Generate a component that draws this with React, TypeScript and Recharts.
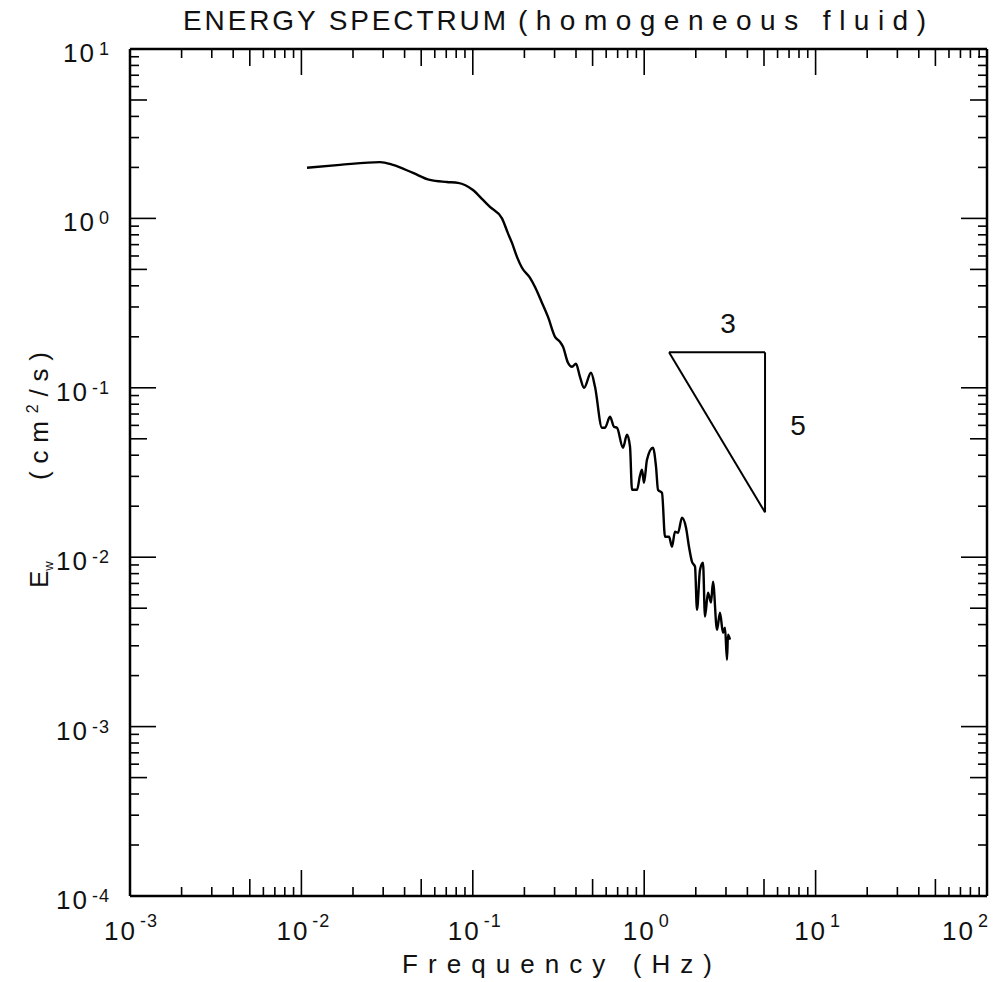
import React from 'react';
import { LineChart, Line, XAxis, YAxis, ReferenceLine, ReferenceDot } from 'recharts';

// Spectrum curve (frequency in Hz, energy in cm^2/s)
const FREQ = [
  0.01078, 0.0168, 0.0288, 0.0342, 0.0448, 0.0562, 0.0706, 0.082, 0.1002, 0.1147,
  0.1259, 0.148, 0.160, 0.1693, 0.181, 0.1936, 0.2157, 0.2307, 0.2535, 0.2747,
  0.3018, 0.3228, 0.336, 0.3592, 0.3792, 0.3999, 0.422, 0.4455, 0.4894, 0.5164,
  0.5672, 0.5905, 0.6316, 0.6665, 0.694, 0.752, 0.7937, 0.8264, 0.8488, 0.908,
  0.945, 0.971, 0.997, 1.038, 1.125, 1.172, 1.204, 1.27, 1.323, 1.396,
  1.453, 1.512, 1.575, 1.662, 1.754, 1.825, 1.9, 1.979, 2.032, 2.117,
  2.203, 2.263, 2.356, 2.453, 2.52, 2.659, 2.768, 2.883, 2.961, 3.041,
  3.083, 3.167,
];
const ENERGY = [
  1.99, 2.07, 2.15, 2.07, 1.855, 1.687, 1.64, 1.62, 1.47, 1.285,
  1.17, 1.0, 0.821, 0.717, 0.593, 0.511, 0.446, 0.394, 0.317, 0.262,
  0.2, 0.1868, 0.1746, 0.1405, 0.133, 0.1386, 0.116, 0.1, 0.1226, 0.1014,
  0.0581, 0.0581, 0.0675, 0.0589, 0.0581, 0.0443, 0.0528, 0.0449, 0.025, 0.025,
  0.0303, 0.0328, 0.0275, 0.0376, 0.0443, 0.0342, 0.025, 0.024, 0.0132, 0.0132,
  0.01153, 0.01414, 0.01395, 0.0171, 0.01493, 0.01153, 0.0094, 0.00879, 0.0049, 0.00844,
  0.00928, 0.00446, 0.00618, 0.0054, 0.00717, 0.00373, 0.0047, 0.00358, 0.00384, 0.00248,
  0.00349, 0.00326,
];

// -5/3 slope triangle
const TRI_F = [1.396, 5.07];
const TRI_E = [0.162, 0.0184];
const TRI_LABELS = ['3', '5'];
const TRI_LABEL_F = [3.08, 7.89];
const TRI_LABEL_E = [0.2418, 0.0605];

// Axes
const X_DECADES = [0.001, 0.01, 0.1, 1, 10, 100];
const Y_DECADES = [0.0001, 0.001, 0.01, 0.1, 1, 10];
const MINOR_STEPS = [2, 3, 4, 5, 6, 7, 8, 9];
const TITLE_LEFT = 'ENERGY SPECTRUM';
const TITLE_RIGHT = '(homogeneous fluid)';
const X_LABEL = 'Frequency (Hz)';

const withMinors = (decades: number[]) => {
  const out: number[] = [];
  decades.forEach((d, i) => {
    out.push(d);
    if (i < decades.length - 1) MINOR_STEPS.forEach((m) => out.push(d * m));
  });
  return out;
};
const X_TICKS = withMinors(X_DECADES);
const Y_TICKS = withMinors(Y_DECADES);

const data = FREQ.map((f, i) => ({ f, e: ENERGY[i] }));

const FONT = 'Liberation Sans, Arial, sans-serif';

const tickInfo = (v: number) => {
  const lg = Math.log10(v);
  const major = Math.abs(lg - Math.round(lg)) < 1e-6;
  const frac = lg - Math.floor(lg + 1e-9);
  const five = Math.abs(frac - Math.log10(5)) < 1e-6;
  return { major, five, exp: Math.round(lg), len: major ? 26 : five ? 17 : 9 };
};

const X_MIN_EXP = Math.round(Math.log10(X_DECADES[0]));
const X_MAX_EXP = Math.round(Math.log10(X_DECADES[X_DECADES.length - 1]));

const makeTick = (side: 'bottom' | 'top' | 'left' | 'right') => (props: any) => {
  const { x, y, payload } = props;
  const { major, exp, len } = tickInfo(payload.value);
  const s = '#000';
  if (side === 'bottom') {
    let anchor: 'middle' | 'start' | 'end' = 'middle';
    let lx = x + 2;
    if (exp === X_MIN_EXP) {
      anchor = 'start';
      lx = x - 26;
    } else if (exp === X_MAX_EXP) {
      anchor = 'end';
      lx = x + 2;
    }
    return (
      <g>
        <line x1={x} y1={y} x2={x} y2={y - len} stroke={s} strokeWidth={1.6} />
        {major && (
          <text x={lx} y={y + 44} textAnchor={anchor} fontFamily={FONT} fontSize={26} fill="#111">
            <tspan letterSpacing={2}>10</tspan>
            <tspan dx={3} dy={-13} fontSize={18} letterSpacing={1}>{String(exp)}</tspan>
          </text>
        )}
      </g>
    );
  }
  if (side === 'top') {
    return <line x1={x} y1={y} x2={x} y2={y + len} stroke={s} strokeWidth={1.6} />;
  }
  if (side === 'left') {
    return (
      <g>
        <line x1={x} y1={y} x2={x + len} y2={y} stroke={s} strokeWidth={1.6} />
        {major && (
          <text x={x - 20} y={y + 13} textAnchor="end" fontFamily={FONT} fontSize={26} fill="#111">
            <tspan letterSpacing={2}>10</tspan>
            <tspan dx={3} dy={-7} fontSize={18} letterSpacing={1}>{String(exp)}</tspan>
          </text>
        )}
      </g>
    );
  }
  return <line x1={x} y1={y} x2={x - len} y2={y} stroke={s} strokeWidth={1.6} />;
};

const axisLine = { stroke: '#000', strokeWidth: 2.5 };

export default function App() {
  return (
    <div style={{ position: 'absolute', left: 0, top: 0, width: 999, height: 982, background: '#fff' }}>
      <LineChart
        width={999}
        height={982}
        data={data}
        margin={{ top: 39, right: 2, bottom: 76, left: 70 }}
      >
        <XAxis
          xAxisId="b"
          dataKey="f"
          type="number"
          scale="log"
          domain={[0.001, 100]}
          allowDataOverflow
          ticks={X_TICKS}
          interval={0}
          height={10}
          tickSize={0}
          tickMargin={0}
          tickLine={false}
          axisLine={axisLine}
          tick={makeTick('bottom')}
        />
        <XAxis
          xAxisId="t"
          orientation="top"
          dataKey="f"
          type="number"
          scale="log"
          domain={[0.001, 100]}
          allowDataOverflow
          ticks={X_TICKS}
          interval={0}
          height={10}
          tickSize={0}
          tickMargin={0}
          tickLine={false}
          axisLine={axisLine}
          tick={makeTick('top')}
        />
        <YAxis
          yAxisId="l"
          type="number"
          scale="log"
          domain={[0.0001, 10]}
          allowDataOverflow
          ticks={Y_TICKS}
          interval={0}
          width={60}
          tickSize={0}
          tickMargin={0}
          tickLine={false}
          axisLine={axisLine}
          tick={makeTick('left')}
        />
        <YAxis
          yAxisId="r"
          orientation="right"
          type="number"
          scale="log"
          domain={[0.0001, 10]}
          allowDataOverflow
          ticks={Y_TICKS}
          interval={0}
          width={10}
          tickSize={0}
          tickMargin={0}
          tickLine={false}
          axisLine={axisLine}
          tick={makeTick('right')}
        />
        <Line
          xAxisId="b"
          yAxisId="l"
          dataKey="e"
          type="monotone"
          stroke="#000"
          strokeWidth={2.4}
          strokeLinejoin="round"
          dot={false}
          isAnimationActive={false}
        />
        <ReferenceLine
          xAxisId="b"
          yAxisId="l"
          segment={[{ x: TRI_F[0], y: TRI_E[0] }, { x: TRI_F[1], y: TRI_E[0] }]}
          stroke="#000"
          strokeWidth={2}
        />
        <ReferenceLine
          xAxisId="b"
          yAxisId="l"
          segment={[{ x: TRI_F[1], y: TRI_E[0] }, { x: TRI_F[1], y: TRI_E[1] }]}
          stroke="#000"
          strokeWidth={2}
        />
        <ReferenceLine
          xAxisId="b"
          yAxisId="l"
          segment={[{ x: TRI_F[0], y: TRI_E[0] }, { x: TRI_F[1], y: TRI_E[1] }]}
          stroke="#000"
          strokeWidth={2}
        />
        {TRI_LABELS.map((t, i) => (
          <ReferenceDot
            key={t}
            xAxisId="b"
            yAxisId="l"
            x={TRI_LABEL_F[i]}
            y={TRI_LABEL_E[i]}
            r={0}
            fill="none"
            stroke="none"
            label={{ value: t, position: 'center', fontSize: 28, fill: '#111', fontFamily: FONT }}
          />
        ))}
        <text x={183} y={30} fontFamily={FONT} fontSize={28} fill="#111" textLength={323} lengthAdjust="spacing">
          {TITLE_LEFT}
        </text>
        <text x={518} y={30} fontFamily={FONT} fontSize={28} fill="#111" textLength={408} lengthAdjust="spacing">
          {TITLE_RIGHT}
        </text>
        <text x={402} y={973} fontFamily={FONT} fontSize={26} fill="#111" textLength={310} lengthAdjust="spacing">
          {X_LABEL}
        </text>
        <g transform="rotate(-90 48 588)">
          <text x={48} y={588} fontFamily={FONT} fontSize={26} fill="#111">
            <tspan>E</tspan>
            <tspan dy={5} fontSize={13}>w</tspan>
          </text>
        </g>
        <g transform="rotate(-90 48 480)">
          <text x={48} y={480} fontFamily={FONT} fontSize={26} fill="#111" textLength={128} lengthAdjust="spacing">
            <tspan>(cm</tspan>
            <tspan dy={-10} fontSize={16}>2</tspan>
            <tspan dy={10}>/s)</tspan>
          </text>
        </g>
      </LineChart>
    </div>
  );
}
